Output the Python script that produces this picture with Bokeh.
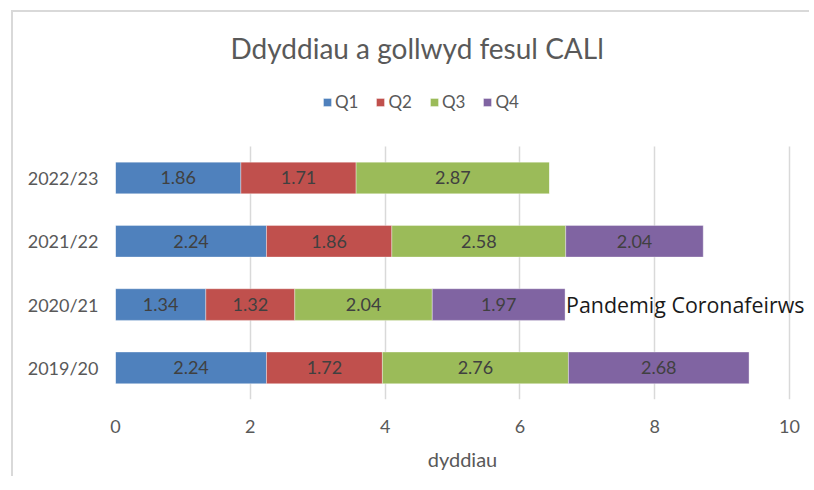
from bokeh.plotting import figure
from bokeh.models import ColumnDataSource, Range1d, Legend, LegendItem, FixedTicker
from bokeh.core.properties import value
from bokeh.embed import file_html
from bokeh.resources import INLINE

years = ["2019/20", "2020/21", "2021/22", "2022/23"]
q1 = [2.24, 1.34, 2.24, 1.86]
q2 = [1.72, 1.32, 1.86, 1.71]
q3 = [2.76, 2.04, 2.58, 2.87]
q4 = [2.68, 1.97, 2.04, 0.0]
series_names = ["Q1", "Q2", "Q3", "Q4"]
colors = ["#4f81bd", "#c0504d", "#9bbb59", "#8064a2"]
x_ticks = [0, 2, 4, 6, 8, 10]
title_text = "Ddyddiau a gollwyd fesul CALl"
x_label = "dyddiau"
note_text = "Pandemig Coronafeirws"
note_year = "2020/21"

FONT = "Lato"

# canvas placed at (13, 12) on the page after the chart-area border
W, H = 798, 466
FRAME_L, FRAME_R, FRAME_T, FRAME_B = 102, 796, 56, 387
PX_X = 67.4      # pixels per day
PX_Y = 63.3      # pixels per category row

yidx = list(range(len(years)))
y_start = -0.5
y_end = y_start + (FRAME_B - FRAME_T) / PX_Y
x_end = (FRAME_R - FRAME_L) / PX_X

p = figure(width=W, height=H, x_range=Range1d(0, x_end), y_range=Range1d(y_start, y_end),
           output_backend="svg", toolbar_location=None,
           min_border_left=FRAME_L, min_border_right=W - FRAME_R,
           min_border_top=FRAME_T, min_border_bottom=H - FRAME_B)
p.styles = {"border-left": "2px solid #d9d9d9", "border-top": "2px solid #d9d9d9",
            "border-right": "none", "border-bottom": "none", "outline": "none",
            "box-shadow": "none", "overflow": "hidden",
            "margin-left": "11px", "margin-top": "10px"}

series = [q1, q2, q3, q4]
data = {"y": yidx}
for n, s in zip(series_names, series):
    data[n] = s
src = ColumnDataSource(data)
renderers = p.hbar_stack(series_names, y="y", height=0.5, color=colors, source=src,
                         line_color="white", line_alpha=0.35, line_width=1)

# data labels
lx, ly, lt = [], [], []
for i in yidx:
    left = 0.0
    for s in series:
        v = s[i]
        if v > 0:
            lx.append(left + v / 2)
            ly.append(i)
            lt.append(f"{v:.2f}")
        left += v
p.text(x=lx, y=ly, text=lt, text_align="center", text_baseline="middle",
       text_font=value(FONT), text_font_size="18px", text_color="#404040")

# annotation
ni = years.index(note_year)
nx = sum(s[ni] for s in series)
p.text(x=[nx], y=[ni], text=[note_text], x_offset=1, text_align="left",
       text_baseline="middle", text_font=value("Open Sans"), text_font_size="21.4px",
       text_color="#1a1a1a")

legend = Legend(items=[LegendItem(label=n, renderers=[r]) for n, r in zip(series_names, renderers)],
                orientation="horizontal", location=(207, 287),
                glyph_width=10, glyph_height=10, label_standoff=3, spacing=17,
                label_text_font=FONT, label_text_font_size="17px", label_text_color="#595959",
                border_line_color=None, background_fill_alpha=0, padding=0, margin=0)
p.add_layout(legend, "center")

p.title.text = title_text
p.title.align = "left"
p.title.offset = 115
p.title.text_font = FONT
p.title.text_font_style = "normal"
p.title.text_font_size = "28px"
p.title.text_color = "#595959"
p.title.standoff = 7

p.xaxis.ticker = FixedTicker(ticks=x_ticks)
p.yaxis.ticker = FixedTicker(ticks=yidx)
p.yaxis.major_label_overrides = {i: y for i, y in zip(yidx, years)}
p.xaxis.axis_label = x_label
p.xaxis.axis_label_text_font = FONT
p.xaxis.axis_label_text_font_style = "normal"
p.xaxis.axis_label_text_font_size = "20px"
p.xaxis.axis_label_text_color = "#595959"
p.xaxis.axis_label_standoff = 11
for ax in (p.xaxis, p.yaxis):
    ax.axis_line_color = None
    ax.major_tick_line_color = None
    ax.minor_tick_line_color = None
    ax.major_label_text_font = FONT
    ax.major_label_text_font_size = "18px"
    ax.major_label_text_color = "#595959"
p.xaxis.major_label_standoff = 14
p.yaxis.major_label_standoff = 11

p.xgrid.grid_line_color = "#d9d9d9"
p.xgrid.grid_line_width = 1.5
p.xgrid.cross_bounds = (y_start, len(years) - 0.5)
p.ygrid.grid_line_color = None
p.outline_line_color = None

open("out.html", "w").write(file_html(p, INLINE))
